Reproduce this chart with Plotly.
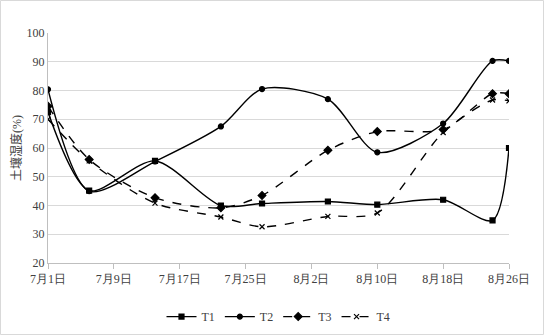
import plotly.graph_objects as go

dates = ["2020-07-01", "2020-07-06", "2020-07-14", "2020-07-22", "2020-07-27",
         "2020-08-04", "2020-08-10", "2020-08-18", "2020-08-24", "2020-08-26"]
t1 = [72.5, 45.2, 55.5, 40.0, 40.7, 41.4, 40.3, 42.0, 34.8, 60.0]
t2 = [80.4, 45.0, 55.3, 67.5, 80.5, 77.0, 58.5, 68.5, 90.3, 90.3]
t3 = [74.5, 56.0, 42.7, 39.2, 43.5, 59.2, 65.7, 66.4, 78.9, 78.9]
t4 = [70.0, 55.5, 40.8, 36.0, 32.6, 36.2, 37.4, 65.4, 76.7, 76.4]

tick_vals = ["2020-07-01", "2020-07-09", "2020-07-17", "2020-07-25",
             "2020-08-02", "2020-08-10", "2020-08-18", "2020-08-26"]
tick_text = ["7月1日", "7月9日", "7月17日", "7月25日", "8月2日", "8月10日", "8月18日", "8月26日"]

FONT = "Liberation Serif"

fig = go.Figure()
series = [
    ("T1", t1, "square", "solid", 5),
    ("T2", t2, "circle", "solid", 5),
    ("T3", t3, "diamond", "dash", 6),
    ("T4", t4, "x-thin", "dash", 5),
]
for name, ys, sym, dash, ms in series:
    fig.add_trace(go.Scatter(
        x=dates, y=ys, name=name, mode="lines+markers",
        line=dict(color="black", width=1.4, dash=dash, shape="spline", smoothing=0.8),
        marker=dict(symbol=sym, size=ms, color="black",
                    line=dict(color="black", width=1.2)),
    ))

L, R, T, B = 48, 36, 33, 73
W, H = 545, 336
pw, ph = W - L - R, H - T - B

fig.update_layout(
    width=W, height=H,
    margin=dict(l=L, r=R, t=T, b=B, autoexpand=False),
    paper_bgcolor="white", plot_bgcolor="white",
    font=dict(family=FONT, size=12, color="#404040"),
    showlegend=True,
    legend=dict(orientation="h", x=0.5, xanchor="center", y=-0.17, yanchor="top",
                font=dict(family=FONT, size=12, color="#404040"),
                itemwidth=30, tracegroupgap=0),
    xaxis=dict(
        type="date", range=["2020-07-01", "2020-08-26"],
        tickvals=tick_vals, ticktext=tick_text, automargin=False,
        showgrid=False, showline=True, linecolor="#bfbfbf", linewidth=1,
        ticks="outside", ticklen=5, tickcolor="#bfbfbf",
        tickfont=dict(family=FONT, size=12, color="#404040"),
        zeroline=False,
    ),
    yaxis=dict(
        range=[20, 100], tick0=20, dtick=10, automargin=False,
        showgrid=True, gridcolor="#d9d9d9", gridwidth=1,
        showline=True, linecolor="#bfbfbf", linewidth=1,
        ticks="", zeroline=False,
        tickfont=dict(family=FONT, size=12, color="#404040"),
        title=dict(text="土壤湿度(%)", standoff=2,
                   font=dict(family="Liberation Serif, Noto Sans CJK SC", size=12, color="#404040")),
    ),
    shapes=[dict(
        type="rect", xref="paper", yref="paper",
        x0=(0.5 - L) / pw, x1=(W - 1.5 - L) / pw,
        y0=-(B - 1.5) / ph, y1=(ph + T - 0.5) / ph,
        line=dict(color="#d9d9d9", width=1), fillcolor="rgba(0,0,0,0)",
    )],
)

fig.write_html("out.html", config={"displayModeBar": False},
               post_script="document.body.style.margin='0';document.body.style.overflow='hidden';")
